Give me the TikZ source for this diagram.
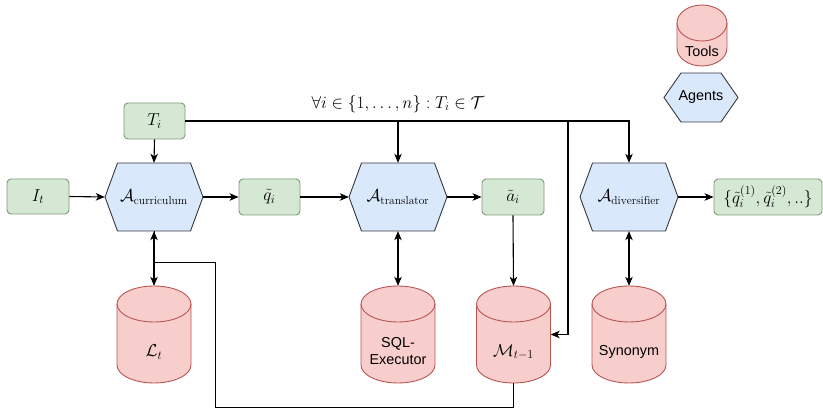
\documentclass[tikz,border=0pt]{standalone}
\usepackage{fontspec}
\setsansfont{Liberation Sans}
\usetikzlibrary{arrows.meta}

\definecolor{greenfill}{HTML}{D5E8D4}
\definecolor{greenline}{HTML}{7F9A78}
\definecolor{bluefill}{HTML}{DAE8FC}
\definecolor{blueline}{HTML}{36393D}
\definecolor{redfill}{HTML}{F8CECC}
\definecolor{redline}{HTML}{B85450}

\newcommand\mathsz{\fontsize{16.5}{19}\selectfont}
\newcommand\labelsz{\fontsize{14.4}{17}\selectfont\sffamily}

% agent hexagon: name, cx, cy, half width, half height, side inset, label
\newcommand\agenthex[7]{%
  \path[agentshape] (#2-#4,#3) -- (#2-#4+#6,#3-#5) -- (#2+#4-#6,#3-#5)
    -- (#2+#4,#3) -- (#2+#4-#6,#3+#5) -- (#2-#4+#6,#3+#5) -- cycle;
  \node[minimum width=2*#4, minimum height=2*#5] (#1) at (#2,#3) {#7};
}
% tool cylinder: name, cx, top, bottom, rx, ry
\newcommand\toolcyl[6]{%
  \path[toolshape] (#2-#5,#3+#6) -- (#2-#5,#4-#6)
    arc[start angle=180,end angle=0,x radius=#5,y radius=#6]
    -- (#2+#5,#3+#6)
    arc[start angle=0,end angle=-180,x radius=#5,y radius=#6] -- cycle;
  \draw[toolline] (#2-#5,#3+#6) arc[start angle=180,end angle=0,x radius=#5,y radius=#6];
  \node[minimum width=2*#5, minimum height=#4-#3] (#1) at (#2,{(#3+#4)/2}) {};
}

\begin{document}
\begin{tikzpicture}[x=1pt,y=-1pt,
  every node/.style={inner sep=0pt},
  datum/.style={draw=greenline, fill=greenfill, rounded corners=4pt,
    line width=0.9pt, font=\mathsz},
  agentshape/.style={draw=blueline, fill=bluefill, line width=0.9pt, line join=miter},
  toolshape/.style={draw=redline, fill=redfill, line width=0.9pt},
  toolline/.style={draw=redline, line width=0.9pt},
  flow/.style={draw=black, line width=1.1pt, -{Stealth[length=9pt,width=7.5pt,inset=2.5pt]}},
  both/.style={draw=black, line width=1.1pt,
    {Stealth[length=9pt,width=7.5pt,inset=2.5pt]}-{Stealth[length=9pt,width=7.5pt,inset=2.5pt]}},
  backflow/.style={draw=black, line width=0.9pt}]
\useasboundingbox (0,0) rectangle (823,414);

% data boxes
\node[datum, minimum width=62, minimum height=35] (It) at (38,196.5) {$I_t$};
\node[datum, minimum width=61, minimum height=36] (Ti) at (154.5,121) {$T_i$};
\node[datum, minimum width=61, minimum height=36] (qi) at (269.5,197) {$\tilde{q}_i$};
\node[datum, minimum width=62, minimum height=36] (ai) at (513,197) {$\tilde{a}_i$};
\node[datum, minimum width=108, minimum height=36] (out) at (768,197)
  {$\{\tilde{q}_i^{(1)},\tilde{q}_i^{(2)},..\}$};

% agents
\agenthex{Acur}{154}{197}{49}{34}{12.5}{\mathsz$\mathcal{A}_{\mathrm{curriculum}}$}
\agenthex{Atr}{398}{197}{49}{34}{12.5}{\mathsz$\mathcal{A}_{\mathrm{translator}}$}
\agenthex{Adiv}{629}{197}{49}{34}{12.5}{\mathsz$\mathcal{A}_{\mathrm{diversifier}}$}

% tools
\toolcyl{Lt}{154}{286}{383}{37}{18}
\node[font=\mathsz] (Ltlab) at (154,352) {$\mathcal{L}_t$};
\toolcyl{SQL}{398}{286}{383}{37}{18}
\node[font=\labelsz, align=center] (SQLlab) at (398,351) {SQL-\\Executor};
\toolcyl{M}{513.5}{286}{383}{37}{18}
\node[font=\mathsz] (Mlab) at (513.5,352) {$\mathcal{M}_{t-1}$};
\toolcyl{Syn}{629}{286}{383}{37}{18}
\node[font=\labelsz] (Synlab) at (629,352) {Synonym};

% legend
\toolcyl{Tools}{702}{5}{66}{25}{18}
\node[font=\labelsz] (Toolslab) at (702,51) {Tools};
\agenthex{Agents}{701}{97.5}{37}{24.5}{17}{\labelsz Agents}

% condition label
\node[font=\mathsz] (cond) at (398,104) {$\forall i \in \{1,\ldots,n\} : T_i \in \mathcal{T}$};

% connectors
\coordinate (tap) at (568,121);
\coordinate (loop) at (215,407);
\coordinate (join) at (154,262);

\draw[flow] (It.east) -- (Acur.west);
\draw[flow] (Ti.south) -- (Acur.north);
\draw[flow] (Acur.east) -- (qi.west);
\draw[flow] (qi.east) -- (Atr.west);
\draw[flow] (Atr.east) -- (ai.west);
\draw[flow] (Adiv.east) -- (out.west);
\draw[flow] (Ti.east) -| (Atr.north);
\draw[flow] (Ti.east) -| (Adiv.north);
\draw[flow] (Ti.east) -| (tap |- M.east) -- (M.east);
\draw[flow] (ai.south) -- (M.north);
\draw[both] (Acur.south) -- (Lt.north);
\draw[both] (Atr.south) -- (SQL.north);
\draw[both] (Adiv.south) -- (Syn.north);
\draw[backflow] (M.south) |- (loop) |- (join) -- (Acur.south);
\end{tikzpicture}
\end{document}
